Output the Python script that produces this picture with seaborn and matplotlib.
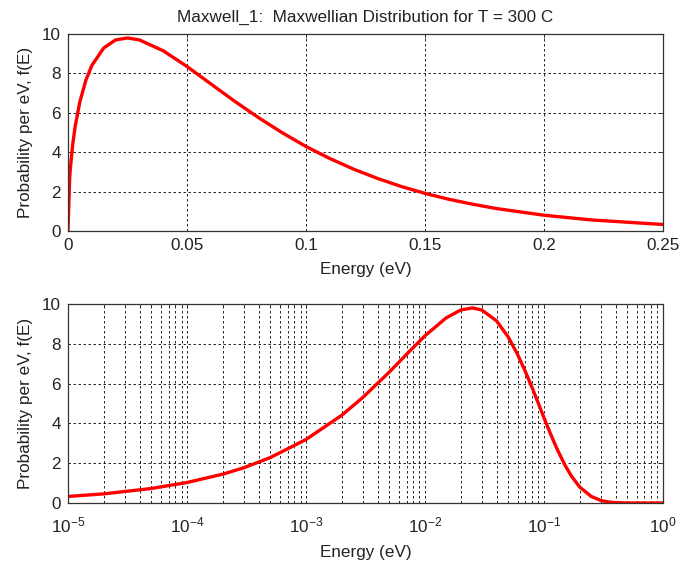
import matplotlib
matplotlib.use("Agg")
import matplotlib.pyplot as plt
import seaborn as sns
import pandas as pd
import numpy as np

#%% data
# top panel, linear energy axis
E_lin = [0, 0.0007, 0.001, 0.002, 0.003, 0.005, 0.0075, 0.01, 0.015, 0.02, 0.025,
         0.03, 0.04, 0.05, 0.06, 0.07, 0.08, 0.09, 0.1, 0.11, 0.12, 0.13, 0.14,
         0.15, 0.16, 0.17, 0.18, 0.2, 0.22, 0.25]
f_lin = [0, 2.68, 3.19, 4.41, 5.30, 6.57, 7.65, 8.40, 9.29, 9.70, 9.80,
         9.70, 9.15, 8.35, 7.47, 6.59, 5.76, 4.99, 4.29, 3.68, 3.14, 2.67, 2.26,
         1.91, 1.61, 1.36, 1.14, 0.80, 0.56, 0.33]

# bottom panel, log energy axis
E_log = [1e-5, 2e-5, 5e-5, 1e-4, 2e-4, 3e-4, 5e-4, 1e-3, 2e-3, 3e-3, 5e-3, 7.5e-3,
         0.01, 0.015, 0.02, 0.025, 0.03, 0.04, 0.05, 0.06, 0.07, 0.08, 0.09, 0.1,
         0.11, 0.12, 0.13, 0.15, 0.17, 0.2, 0.25, 0.3, 0.35, 0.4, 0.5, 0.7, 1.0]
f_log = [0.33, 0.46, 0.73, 1.03, 1.45, 1.77, 2.28, 3.19, 4.41, 5.30, 6.57, 7.65,
         8.40, 9.29, 9.70, 9.80, 9.70, 9.15, 8.35, 7.47, 6.59, 5.76, 4.99, 4.29,
         3.68, 3.14, 2.67, 1.91, 1.36, 0.80, 0.33, 0.13, 0.05, 0.02, 0.003, 0.0, 0.0]

x_ticks_lin = [0, 0.05, 0.1, 0.15, 0.2, 0.25]
x_labels_lin = ["0", "0.05", "0.1", "0.15", "0.2", "0.25"]
x_ticks_log = [1e-5, 1e-4, 1e-3, 1e-2, 1e-1, 1]
x_labels_log = [r"$\mathregular{10^{-5}}$", r"$\mathregular{10^{-4}}$", r"$\mathregular{10^{-3}}$",
                r"$\mathregular{10^{-2}}$", r"$\mathregular{10^{-1}}$", r"$\mathregular{10^{0}}$"]
y_ticks = [0, 2, 4, 6, 8, 10]

title = "Maxwell_1:  Maxwellian Distribution for T = 300 C"
xlab = "Energy (eV)"
ylab = "Probability per eV, f(E)"

#%% style
sns.set_style("white")
plt.rcParams['font.family'] = ['Liberation Sans', 'DejaVu Sans']
plt.rcParams['mathtext.fontset'] = 'custom'
plt.rcParams['mathtext.rm'] = 'Liberation Sans'
plt.rcParams['mathtext.it'] = 'Liberation Sans'
fs = 12.3
txt_col = '#222222'

df_lin = pd.DataFrame({"E": E_lin, "f": f_lin})
df_log = pd.DataFrame({"E": E_log, "f": f_log})

fig = plt.figure(figsize=(6.82, 5.65), dpi=100)
ax1 = fig.add_axes([0.0997, 0.5912, 0.8723, 0.3486])
ax2 = fig.add_axes([0.0997, 0.1097, 0.8723, 0.3523])

grid_kw = dict(color='black', linestyle=(0, (3, 3)), linewidth=0.6)

sns.lineplot(data=df_lin, x="E", y="f", ax=ax1, color='red', linewidth=2.4,
             sort=False, estimator=None)
ax1.set_xlim(0, 0.25)
ax1.set_ylim(0, 10)
ax1.set_xticks(x_ticks_lin)
ax1.set_xticklabels(x_labels_lin)
ax1.set_yticks(y_ticks)
ax1.grid(True, **grid_kw)
ax1.set_title(title, fontsize=fs, pad=9, color=txt_col)

sns.lineplot(data=df_log, x="E", y="f", ax=ax2, color='red', linewidth=2.4,
             sort=False, estimator=None)
ax2.set_xscale('log')
ax2.set_xlim(1e-5, 1)
ax2.set_ylim(0, 10)
ax2.set_yticks(y_ticks)
ax2.set_xticks(x_ticks_log)
ax2.set_xticklabels(x_labels_log)
ax2.xaxis.set_minor_locator(matplotlib.ticker.LogLocator(base=10, subs=np.arange(2, 10)))
ax2.xaxis.set_minor_formatter(matplotlib.ticker.NullFormatter())
ax2.grid(True, which='both', axis='x', **grid_kw)
ax2.grid(True, which='major', axis='y', **grid_kw)

for ax in (ax1, ax2):
    ax.set_axisbelow(True)
    ax.set_xlabel(xlab, fontsize=fs, color=txt_col)
    ax.set_ylabel(ylab, fontsize=fs, color=txt_col)
    ax.yaxis.set_label_coords(-0.058, 0.5)
    ax.tick_params(axis='both', which='both', direction='in', labelsize=fs,
                   top=True, right=True, length=3, width=0.6, pad=5,
                   labelcolor=txt_col)
    ax.tick_params(which='minor', length=2)
    for s in ax.spines.values():
        s.set_color('#333333')
        s.set_linewidth(0.9)

ax1.xaxis.set_label_coords(0.5, -0.16)
ax2.xaxis.set_label_coords(0.5, -0.21)
ax2.tick_params(axis='x', which='major', pad=9)

fig.savefig('out.png', dpi=100)
